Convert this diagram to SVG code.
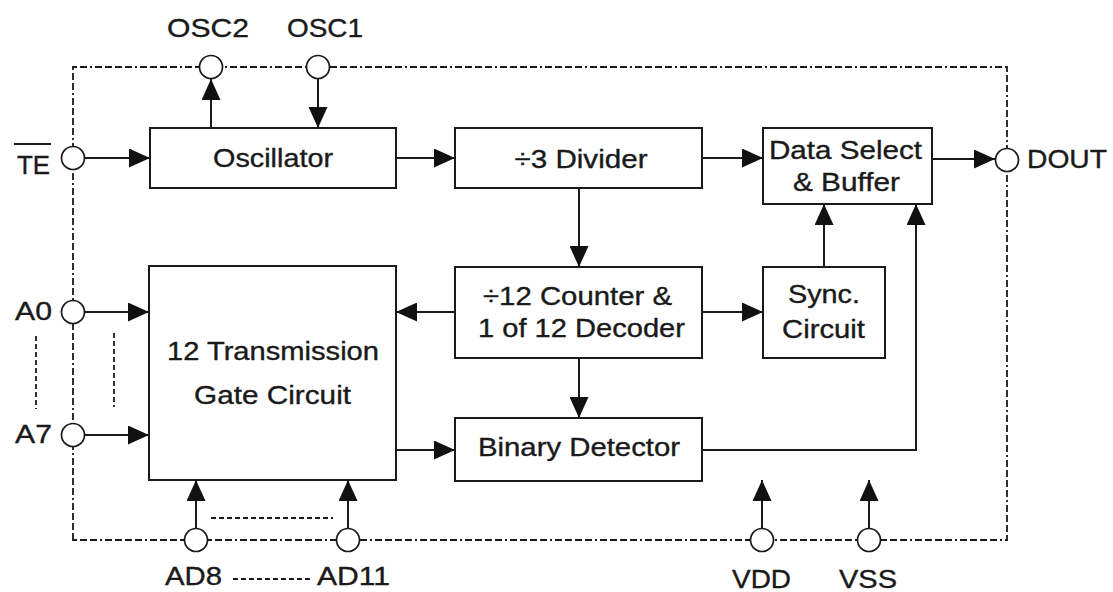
<svg xmlns="http://www.w3.org/2000/svg" width="1113" height="592" viewBox="0 0 1113 592">
<style>
.box{fill:#fff;stroke:#1a1a1a;stroke-width:2}
.pin{fill:#fff;stroke:#1a1a1a;stroke-width:1.7}
.ln{fill:none;stroke:#1a1a1a;stroke-width:2}
.dash{fill:none;stroke:#1a1a1a;stroke-width:1.8;stroke-dasharray:7,3,7,3,7,3,7,3,2,3}
.sd{fill:none;stroke:#1a1a1a;stroke-width:1.8;stroke-dasharray:5,3}
text{font-family:"Liberation Sans",Arial,sans-serif;font-size:25px;fill:#1a1a1a;stroke:#1a1a1a;stroke-width:0.35;text-anchor:middle}
</style>
<defs>
<marker id="arr" markerUnits="userSpaceOnUse" markerWidth="21" markerHeight="19" refX="21" refY="9.5" orient="auto"><path d="M0,0 L21,9.5 L0,19 z" fill="#111"/></marker>
</defs>
<rect width="1113" height="592" fill="#fff"/>
<g id="boundary">
<path class="dash" d="M73,540 L73,67 L1007,67 L1007,540 Z"/>
<path class="sd" d="M36,336 L36,409"/>
<path class="sd" d="M114,333 L114,407"/>
<path class="sd" d="M211,518 L333,518"/>
<path class="sd" d="M233,579 L313,579"/>
</g>
<g id="connectors">
<path class="ln" marker-end="url(#arr)" d="M85,158 L150,158"/>
<path class="ln" marker-end="url(#arr)" d="M396,158 L455,158"/>
<path class="ln" marker-end="url(#arr)" d="M702,158 L763,158"/>
<path class="ln" marker-end="url(#arr)" d="M932,159 L995,159"/>
<path class="ln" marker-end="url(#arr)" d="M211,128 L211,79"/>
<path class="ln" marker-end="url(#arr)" d="M318,79 L318,128"/>
<path class="ln" marker-end="url(#arr)" d="M579,188 L579,267"/>
<path class="ln" marker-end="url(#arr)" d="M455,312 L396,312"/>
<path class="ln" marker-end="url(#arr)" d="M702,312 L763,312"/>
<path class="ln" marker-end="url(#arr)" d="M824,267 L824,204"/>
<path class="ln" marker-end="url(#arr)" d="M702,450 L916,450 L916,204"/>
<path class="ln" marker-end="url(#arr)" d="M579,358 L579,418"/>
<path class="ln" marker-end="url(#arr)" d="M396,450 L455,450"/>
<path class="ln" marker-end="url(#arr)" d="M85,312 L149,312"/>
<path class="ln" marker-end="url(#arr)" d="M85,435 L149,435"/>
<path class="ln" marker-end="url(#arr)" d="M196,529 L196,480"/>
<path class="ln" marker-end="url(#arr)" d="M348,529 L348,480"/>
<path class="ln" marker-end="url(#arr)" d="M762,529 L762,480"/>
<path class="ln" marker-end="url(#arr)" d="M869,529 L869,480"/>
</g>
<g id="oscillator"><rect class="box" x="150" y="128" width="246" height="60"/><text x="273" y="167" textLength="120" lengthAdjust="spacingAndGlyphs">Oscillator</text></g>
<g id="divider"><rect class="box" x="455" y="128" width="247" height="60"/><text x="581" y="168" textLength="133" lengthAdjust="spacingAndGlyphs">÷3 Divider</text></g>
<g id="data-select"><rect class="box" x="763" y="128" width="169" height="76"/><text x="845.5" y="159" textLength="153" lengthAdjust="spacingAndGlyphs">Data Select</text><text x="846.5" y="191" textLength="107" lengthAdjust="spacingAndGlyphs">&amp; Buffer</text></g>
<g id="counter"><rect class="box" x="455" y="267" width="247" height="91"/><text x="577.5" y="305" textLength="189" lengthAdjust="spacingAndGlyphs">÷12 Counter &amp;</text><text x="581.5" y="337" textLength="207" lengthAdjust="spacingAndGlyphs">1 of 12 Decoder</text></g>
<g id="sync"><rect class="box" x="763" y="267" width="122" height="91"/><text x="824" y="303" textLength="72" lengthAdjust="spacingAndGlyphs">Sync.</text><text x="823.5" y="338" textLength="83" lengthAdjust="spacingAndGlyphs">Circuit</text></g>
<g id="transmission"><rect class="box" x="149" y="266" width="247" height="214"/><text x="273" y="360" textLength="212" lengthAdjust="spacingAndGlyphs">12 Transmission</text><text x="272.5" y="404" textLength="157" lengthAdjust="spacingAndGlyphs">Gate Circuit</text></g>
<g id="binary"><rect class="box" x="455" y="418" width="247" height="63"/><text x="579" y="456" textLength="202" lengthAdjust="spacingAndGlyphs">Binary Detector</text></g>
<g id="pin-osc2"><circle class="pin" cx="211" cy="67" r="11.5"/><text x="208" y="37" textLength="82" lengthAdjust="spacingAndGlyphs">OSC2</text></g>
<g id="pin-osc1"><circle class="pin" cx="318" cy="67" r="11.5"/><text x="325" y="37" textLength="76" lengthAdjust="spacingAndGlyphs">OSC1</text></g>
<g id="pin-te"><circle class="pin" cx="73" cy="158" r="11.5"/><text x="33.5" y="174" textLength="33" lengthAdjust="spacingAndGlyphs">TE</text><path class="ln" d="M14,144 L51,144"/></g>
<g id="pin-dout"><circle class="pin" cx="1007" cy="160" r="11.5"/><text x="1067" y="168" textLength="80" lengthAdjust="spacingAndGlyphs">DOUT</text></g>
<g id="pin-a0"><circle class="pin" cx="73" cy="312" r="11.5"/><text x="33.5" y="320" textLength="37" lengthAdjust="spacingAndGlyphs">A0</text></g>
<g id="pin-a7"><circle class="pin" cx="73" cy="435" r="11.5"/><text x="33.5" y="443" textLength="37" lengthAdjust="spacingAndGlyphs">A7</text></g>
<g id="pin-ad8"><circle class="pin" cx="196" cy="540" r="11.5"/><text x="193.5" y="585" textLength="57" lengthAdjust="spacingAndGlyphs">AD8</text></g>
<g id="pin-ad11"><circle class="pin" cx="348" cy="540" r="11.5"/><text x="353.5" y="585" textLength="73" lengthAdjust="spacingAndGlyphs">AD11</text></g>
<g id="pin-vdd"><circle class="pin" cx="762" cy="540" r="11.5"/><text x="761.5" y="588" textLength="59" lengthAdjust="spacingAndGlyphs">VDD</text></g>
<g id="pin-vss"><circle class="pin" cx="869" cy="540" r="11.5"/><text x="868" y="588" textLength="58" lengthAdjust="spacingAndGlyphs">VSS</text></g>
</svg>
